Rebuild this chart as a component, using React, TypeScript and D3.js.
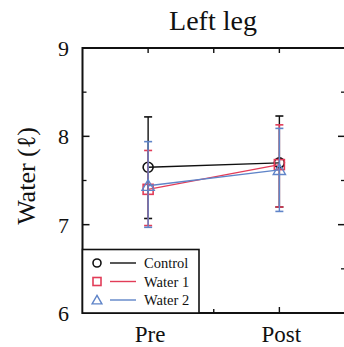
import React from "react";
import * as d3 from "d3";

const W = 344;
const H = 347;

const categories = ["Pre", "Post"];
const seriesNames = ["Control", "Water 1", "Water 2"];
const seriesColors = ["#111111", "#e23c58", "#5f84c8"];
const seriesMarkers = ["circle", "square", "triangle"];

const controlMean = [7.65, 7.7];
const controlUpper = [8.22, 8.23];
const controlLower = [7.07, 7.2];

const water1Mean = [7.4, 7.68];
const water1Upper = [7.84, 8.13];
const water1Lower = [6.99, 7.2];

const water2Mean = [7.44, 7.62];
const water2Upper = [7.94, 8.09];
const water2Lower = [6.97, 7.15];

const yTicks = [6, 7, 8, 9];
const yMinorTicks = [6.5, 7.5, 8.5];
const xTickPositions = [1, 2, 3];
const categoryPositions = [1, 3];

const FONT = `"Liberation Serif"`;

export default function App() {
  const left = 82.5;
  const right = 345;
  const top = 48;
  const bottom = 313;

  const x = d3.scaleLinear().domain([0, 4]).range([left, right]);
  const y = d3.scaleLinear().domain([6, 9]).range([bottom, top]);

  const series = [
    { mean: controlMean, up: controlUpper, lo: controlLower },
    { mean: water1Mean, up: water1Upper, lo: water1Lower },
    { mean: water2Mean, up: water2Upper, lo: water2Lower },
  ];

  const line = d3
    .line<number>()
    .x((_, i) => x(categoryPositions[i]))
    .y((d) => y(d));

  const marker = (kind: string, cx: number, cy: number, color: string, s: number) => {
    if (kind === "circle")
      return <circle cx={cx} cy={cy} r={s} fill="none" stroke={color} strokeWidth={1.6} />;
    if (kind === "square")
      return <rect x={cx - s} y={cy - s} width={2 * s} height={2 * s} fill="none" stroke={color} strokeWidth={1.6} />;
    const p = d3.symbol(d3.symbolTriangle, s * s * 2.6)();
    return <path d={p || ""} transform={`translate(${cx},${cy + 1})`} fill="none" stroke={color} strokeWidth={1.4} />;
  };

  const capW = 4;
  const ts = { fontFamily: FONT };

  return (
    <svg
      width={W}
      height={H}
      style={{ position: "absolute", left: 0, top: 0, display: "block", background: "#fff", fontFamily: FONT }}
    >
      <text x={213} y={30} textAnchor="middle" fontSize={28} fill="#111" style={ts}>
        Left leg
      </text>
      <text transform="translate(35,176) rotate(-90)" textAnchor="middle" fontSize={26} fill="#111" style={ts}>
        Water (ℓ)
      </text>

      {yTicks.map((t) => (
        <text key={"yl" + t} x={69} y={y(t) + 8} textAnchor="end" fontSize={22} fill="#111" style={ts}>
          {t}
        </text>
      ))}
      {categories.map((c, i) => (
        <text key={"xl" + c} x={x(categoryPositions[i]) + 2} y={342} textAnchor="middle" fontSize={23} fill="#111" style={ts}>
          {c}
        </text>
      ))}

      {yTicks.map((t) => (
        <g key={"yt" + t}>
          <line x1={left} x2={left + 7} y1={y(t)} y2={y(t)} stroke="#111" strokeWidth={1.5} />
          <line x1={right} x2={right - 7} y1={y(t)} y2={y(t)} stroke="#111" strokeWidth={1.5} />
        </g>
      ))}
      {yMinorTicks.map((t) => (
        <g key={"ym" + t}>
          <line x1={left} x2={left + 4} y1={y(t)} y2={y(t)} stroke="#111" strokeWidth={1.3} />
          <line x1={right} x2={right - 4} y1={y(t)} y2={y(t)} stroke="#111" strokeWidth={1.3} />
        </g>
      ))}
      {xTickPositions.map((t) => {
        const major = categoryPositions.includes(t);
        return (
          <g key={"xt" + t}>
            <line x1={x(t)} x2={x(t)} y1={top} y2={top + 5} stroke="#111" strokeWidth={1.4} />
            <line x1={x(t)} x2={x(t)} y1={bottom} y2={bottom - (major ? 6 : 4)} stroke="#111" strokeWidth={1.4} />
          </g>
        );
      })}

      {series.map((s, si) => {
        const color = seriesColors[si];
        return (
          <g key={"s" + si}>
            <path d={line(s.mean) || ""} fill="none" stroke={color} strokeWidth={1.4} />
            {s.mean.map((m, i) => {
              const cx = x(categoryPositions[i]);
              return (
                <g key={"p" + i}>
                  <line x1={cx} x2={cx} y1={y(s.up[i])} y2={y(s.lo[i])} stroke={color} strokeWidth={1.4} />
                  <line x1={cx - capW} x2={cx + capW} y1={y(s.up[i])} y2={y(s.up[i])} stroke={color} strokeWidth={1.6} />
                  <line x1={cx - capW} x2={cx + capW} y1={y(s.lo[i])} y2={y(s.lo[i])} stroke={color} strokeWidth={1.6} />
                  {marker(seriesMarkers[si], cx, y(m), color, 5)}
                </g>
              );
            })}
          </g>
        );
      })}

      <rect x={left} y={top} width={right - left} height={bottom - top} fill="none" stroke="#111" strokeWidth={2} />

      <rect x={left} y={249.5} width={116.5} height={bottom - 249.5} fill="#fff" stroke="#111" strokeWidth={1.6} />
      {seriesNames.map((n, i) => {
        const cy = 263 + i * 18.5;
        const color = seriesColors[i];
        return (
          <g key={"lg" + n}>
            {marker(seriesMarkers[i], 97, cy, color, 4)}
            <line x1={110} x2={136} y1={cy} y2={cy} stroke={color} strokeWidth={1.4} />
            <text x={144} y={cy + 5} fontSize={14.5} fill="#111" style={ts}>
              {n}
            </text>
          </g>
        );
      })}
    </svg>
  );
}
